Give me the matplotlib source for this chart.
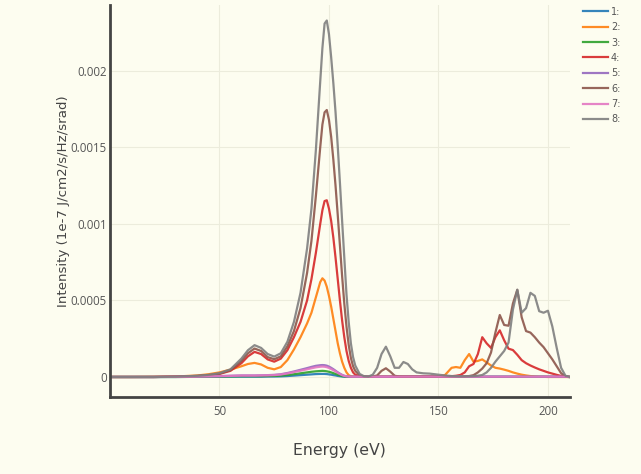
#####line plot of intensity against energy (8 traces)

import matplotlib
matplotlib.use("Agg")
import matplotlib.pyplot as plt
import numpy as np

# energy grid (eV)
energy = [0, 10, 20, 30, 40, 45, 50, 55, 60, 63, 66, 69, 72, 75, 78, 81, 84, 87, 90, 92, 94, 96,
          97, 98, 99, 100, 101, 102, 103, 104, 105, 106, 107, 108, 109, 110, 111, 112,
          114, 116, 118, 120, 122, 124, 126, 128, 130, 132, 134, 136, 138, 140, 143, 146, 150, 153, 156, 158,
          160, 162, 164, 166, 168, 170, 172, 174, 176, 178, 180, 182, 184, 186, 188, 190, 192, 194, 196, 198,
          200, 202, 204, 206, 208, 210]

# intensities, in units of 1e-4
s1 = [0, 0, 0, 0, 0.01, 0.01, 0.01, 0.02, 0.02, 0.02, 0.02, 0.02, 0.03, 0.03, 0.04, 0.06, 0.09, 0.12, 0.15, 0.17, 0.19, 0.2,
      0.2, 0.2, 0.19, 0.17, 0.15, 0.12, 0.1, 0.07, 0.05, 0.03, 0.02, 0.01, 0.01, 0.01, 0.01, 0.01,
      0.01, 0.01, 0.01, 0.01, 0.01, 0.01, 0.01, 0.01, 0.01, 0.01, 0.01, 0.01, 0.01, 0.01, 0.01, 0.01, 0.01, 0.01, 0.01, 0.01,
      0.01, 0.01, 0.01, 0.01, 0.01, 0.01, 0.01, 0.01, 0.01, 0.01, 0.01, 0.01, 0.01, 0.01, 0.01, 0.01, 0.01, 0.01, 0.01, 0.01,
      0.01, 0.01, 0.01, 0.01, 0.01, 0]
s2 = [0, 0, 0.01, 0.03, 0.1, 0.18, 0.3, 0.48, 0.7, 0.85, 0.92, 0.82, 0.6, 0.5, 0.65, 1.1, 1.8, 2.6, 3.5, 4.2, 5.2, 6.2,
      6.45, 6.3, 5.9, 5.3, 4.6, 3.8, 3.0, 2.2, 1.55, 1.0, 0.6, 0.3, 0.12, 0.05, 0.02, 0.01,
      0.01, 0.01, 0.01, 0.01, 0.01, 0.01, 0.01, 0.01, 0.01, 0.01, 0.01, 0.01, 0.01, 0.01, 0.01, 0.01, 0.02, 0.13, 0.6, 0.65,
      0.6, 1.1, 1.5, 1.0, 1.05, 1.15, 0.95, 0.75, 0.6, 0.55, 0.48, 0.4, 0.3, 0.22, 0.15, 0.1, 0.06, 0.03, 0.01, 0.01,
      0, 0, 0, 0, 0, 0]
s3 = [0, 0, 0, 0, 0.01, 0.02, 0.03, 0.04, 0.05, 0.05, 0.05, 0.05, 0.06, 0.07, 0.09, 0.13, 0.18, 0.24, 0.3, 0.34, 0.37, 0.39,
      0.4, 0.39, 0.37, 0.34, 0.3, 0.25, 0.2, 0.15, 0.1, 0.06, 0.04, 0.02, 0.01, 0.01, 0.01, 0.01,
      0.01, 0.01, 0.01, 0.01, 0.01, 0.01, 0.01, 0.01, 0.01, 0.01, 0.01, 0.01, 0.01, 0.01, 0.01, 0.01, 0.01, 0.01, 0.01, 0.01,
      0.01, 0.01, 0.01, 0.01, 0.01, 0.01, 0.01, 0.01, 0.01, 0.01, 0.01, 0.01, 0.01, 0.01, 0.01, 0.01, 0.01, 0.01, 0.01, 0.01,
      0.01, 0.01, 0.01, 0.01, 0.01, 0]
s4 = [0, 0, 0, 0.02, 0.06, 0.1, 0.2, 0.4, 0.9, 1.35, 1.64, 1.5, 1.15, 1.0, 1.2, 1.75, 2.6, 3.6, 5.0, 6.4, 8.1, 10.0,
      10.9, 11.5, 11.55, 11.0, 10.2, 9.1, 7.8, 6.4, 5.0, 3.7, 2.6, 1.7, 1.05, 0.6, 0.3, 0.15,
      0.04, 0.02, 0.02, 0.02, 0.02, 0.02, 0.02, 0.02, 0.02, 0.02, 0.02, 0.02, 0.02, 0.02, 0.02, 0.02, 0.02, 0.03, 0.05, 0.08,
      0.13, 0.3, 0.7, 0.85, 1.5, 2.6, 2.2, 1.9, 2.6, 3.05, 2.4, 1.85, 1.76, 1.45, 1.1, 0.9, 0.75, 0.62, 0.5, 0.4,
      0.3, 0.22, 0.14, 0.07, 0.02, 0]
s5 = [0, 0, 0, 0.01, 0.03, 0.04, 0.06, 0.08, 0.1, 0.1, 0.1, 0.11, 0.12, 0.14, 0.18, 0.26, 0.36, 0.47, 0.58, 0.66, 0.73, 0.77,
      0.78, 0.77, 0.74, 0.68, 0.6, 0.51, 0.41, 0.31, 0.22, 0.14, 0.08, 0.05, 0.03, 0.02, 0.02, 0.02,
      0.02, 0.02, 0.02, 0.02, 0.02, 0.02, 0.02, 0.02, 0.02, 0.02, 0.02, 0.02, 0.02, 0.02, 0.02, 0.02, 0.02, 0.02, 0.02, 0.02,
      0.02, 0.02, 0.02, 0.02, 0.02, 0.02, 0.02, 0.02, 0.02, 0.02, 0.02, 0.02, 0.02, 0.02, 0.02, 0.02, 0.02, 0.02, 0.02, 0.02,
      0.02, 0.02, 0.02, 0.02, 0.02, 0]
s6 = [0, 0, 0, 0.02, 0.07, 0.12, 0.22, 0.45, 1.05, 1.55, 1.86, 1.7, 1.3, 1.16, 1.35, 2.0, 3.0, 4.5, 6.8, 8.9, 11.8, 15.0,
      16.5, 17.3, 17.45, 16.8, 15.7, 14.2, 12.5, 10.6, 8.6, 6.6, 4.8, 3.3, 2.1, 1.25, 0.7, 0.4,
      0.1, 0.03, 0.02, 0.03, 0.1, 0.4, 0.57, 0.35, 0.08, 0.03, 0.02, 0.02, 0.02, 0.02, 0.02, 0.02, 0.02, 0.02, 0.02, 0.02,
      0.03, 0.04, 0.06, 0.12, 0.3, 0.55, 0.9, 1.6, 2.9, 4.05, 3.4, 3.35, 4.8, 5.7, 3.9, 3.0, 2.9, 2.6, 2.25, 1.95,
      1.55, 1.15, 0.7, 0.25, 0.03, 0]
s7 = [0, 0, 0, 0.01, 0.03, 0.04, 0.05, 0.07, 0.09, 0.09, 0.09, 0.1, 0.11, 0.12, 0.16, 0.23, 0.32, 0.41, 0.5, 0.57, 0.63, 0.67,
      0.68, 0.67, 0.64, 0.59, 0.52, 0.44, 0.36, 0.27, 0.19, 0.12, 0.07, 0.04, 0.03, 0.02, 0.02, 0.02,
      0.02, 0.02, 0.02, 0.02, 0.02, 0.02, 0.02, 0.02, 0.02, 0.02, 0.02, 0.02, 0.02, 0.02, 0.02, 0.02, 0.02, 0.02, 0.02, 0.02,
      0.02, 0.02, 0.02, 0.02, 0.02, 0.02, 0.02, 0.02, 0.02, 0.02, 0.02, 0.02, 0.02, 0.02, 0.02, 0.02, 0.02, 0.02, 0.02, 0.02,
      0.02, 0.02, 0.02, 0.02, 0.02, 0]
s8 = [0, 0, 0, 0.02, 0.08, 0.14, 0.25, 0.5, 1.2, 1.75, 2.08, 1.9, 1.5, 1.33, 1.55, 2.3, 3.6, 5.5, 8.4, 11.0, 14.8, 19.3,
      21.5, 23.1, 23.3, 22.4, 20.9, 19.2, 17.3, 15.1, 12.7, 10.2, 7.8, 5.4, 3.6, 2.2, 1.3, 0.75,
      0.2, 0.05, 0.03, 0.15, 0.6, 1.5, 1.98, 1.35, 0.6, 0.6, 0.98, 0.85, 0.5, 0.3, 0.24, 0.22, 0.15, 0.1, 0.06, 0.05,
      0.04, 0.04, 0.05, 0.06, 0.08, 0.13, 0.3, 0.6, 1.0, 1.35, 1.7, 2.25, 4.4, 5.7, 4.2, 4.5, 5.5, 5.3, 4.3, 4.2,
      4.33, 3.3, 1.9, 0.6, 0.08, 0]

series = [s1, s2, s3, s4, s5, s6, s7, s8]
labels = ['1:', '2:', '3:', '4:', '5:', '6:', '7:', '8:']
colors = ['#1f77b4', '#ff7f0e', '#2ca02c', '#d62728', '#9467bd', '#8c564b', '#e377c2', '#7f7f7f']

ytick_vals = [0, 0.0005, 0.001, 0.0015, 0.002]
ytick_text = ['0', '0.0005', '0.001', '0.0015', '0.002']
xtick_vals = [50, 100, 150, 200]

bg = '#fdfdf0'

# lets make the plot
fig = plt.figure(figsize=(6.41, 4.74), dpi=100, facecolor=bg)
ax = fig.add_axes([0.1716, 0.1624, 0.889 - 0.1716, 0.989 - 0.1624])
ax.set_facecolor(bg)

for s, lab, c in zip(series, labels, colors):
    ax.plot(energy, np.array(s) * 1e-4, label=lab, color=c, linewidth=1.6, alpha=0.9)

ax.set_xlim(0, 210)
ax.set_ylim(-0.000131, 0.00243)

ax.set_xticks(xtick_vals)
ax.set_yticks(ytick_vals)
ax.set_yticklabels(ytick_text)
ax.tick_params(length=0, labelsize=8.3, labelcolor='#555555')
ax.tick_params(axis='x', pad=6)
ax.tick_params(axis='y', pad=2.5)
for t in ax.get_xticklabels() + ax.get_yticklabels():
    t.set_family('Open Sans')

ax.grid(color='#ececdc', linewidth=0.8)
ax.set_axisbelow(True)

for side in ['top', 'right']:
    ax.spines[side].set_visible(False)
for side in ['left', 'bottom']:
    ax.spines[side].set_color('#444444')
    ax.spines[side].set_linewidth(2)

ax.set_xlabel('Energy (eV)', fontsize=11.3, color='#444444', labelpad=17.5)
ax.set_ylabel('Intensity (1e-7 J/cm2/s/Hz/srad)', fontsize=9.6, color='#444444', labelpad=0.5)

# Display the legend
leg = fig.legend(loc='upper left', bbox_to_anchor=(0.8955, 1.004), frameon=False,
                 fontsize=7, handlelength=2.6, labelspacing=0.55, handletextpad=0.3)
for t in leg.get_texts():
    t.set_color('#555555')

plt.savefig('out.png', dpi=100, facecolor=bg)
